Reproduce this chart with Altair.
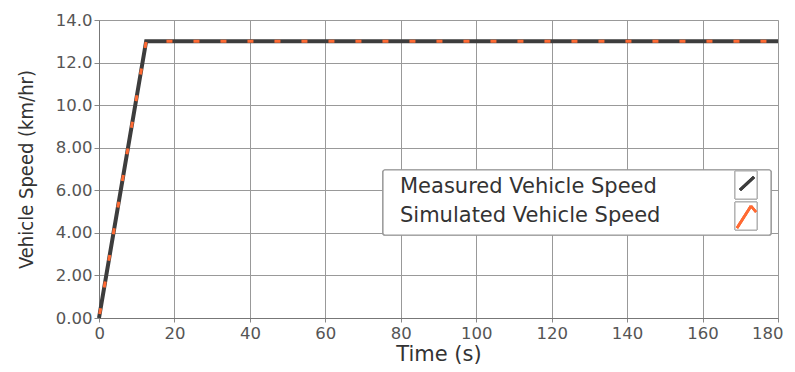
import altair as alt
import pandas as pd

time_s = [0, 12.5, 180]
measured = [0.0, 13.0, 13.0]
simulated = [0.0, 13.0, 13.0]
legend_labels = ["Measured Vehicle Speed", "Simulated Vehicle Speed"]
x_ticks = [0, 20, 40, 60, 80, 100, 120, 140, 160, 180]
y_ticks = [0, 2, 4, 6, 8, 10, 12, 14]

df = pd.DataFrame({"t": time_s, "measured": measured, "simulated": simulated})

FONT = "DejaVu Sans"
NARROW = "Liberation Sans Narrow, DejaVu Sans Condensed, sans-serif"

x = alt.X("t:Q", scale=alt.Scale(domain=[0, 180], nice=False),
          axis=alt.Axis(values=x_ticks, title="Time (s)", grid=True,
                        labelFontSize=16.5, labelColor="#555", labelFont=FONT,
                        labelFlush=True, labelFlushOffset=5,
                        titleFontSize=21, titleFont=FONT, titleFontWeight=500,
                        titleColor="#333", titlePadding=2,
                        tickSize=4, tickColor="#888", domainColor="#777",
                        gridColor="#999", labelPadding=3))

y_axis = alt.Axis(values=y_ticks, title="Vehicle Speed (km/hr)", grid=True,
                  labelExpr="datum.value >= 10 ? format(datum.value, '.1f') : format(datum.value, '.2f')",
                  labelFontSize=16.5, labelColor="#555", labelFont=FONT,
                  labelFlush=False,
                  titleFontSize=20, titleFont=NARROW, titleFontWeight="normal",
                  titleColor="#333", titlePadding=19,
                  tickSize=5, tickColor="#888", domainColor="#777",
                  gridColor="#999", labelPadding=2)

meas = alt.Chart(df).mark_line(color="#3d3d3d", strokeWidth=4).encode(
    x=x,
    y=alt.Y("measured:Q", scale=alt.Scale(domain=[0, 14], nice=False), axis=y_axis),
)
sim = alt.Chart(df).mark_line(color="#ff6a33", strokeWidth=3,
                              strokeDash=[6, 21], strokeDashOffset=-4).encode(
    x="t:Q", y="simulated:Q"
)

# Legend (drawn inside the plot)
box = alt.Chart(df).mark_rect(fill="white", stroke="#999", strokeWidth=1.2,
                              cornerRadius=2).encode(
    x=alt.value(284), x2=alt.value(672), y=alt.value(150), y2=alt.value(215))
leg_df = pd.DataFrame({"label": legend_labels})
txt1 = alt.Chart(leg_df.iloc[[0]]).mark_text(align="left", baseline="middle",
                                             fontSize=21, font=FONT, color="#333").encode(
    x=alt.value(301), y=alt.value(167), text="label:N")
txt2 = alt.Chart(leg_df.iloc[[1]]).mark_text(align="left", baseline="middle",
                                             fontSize=21, font=FONT, color="#333").encode(
    x=alt.value(301), y=alt.value(196), text="label:N")
sbox1 = alt.Chart(df).mark_rect(fill="white", stroke="#aaa", strokeWidth=1).encode(
    x=alt.value(636), x2=alt.value(658), y=alt.value(151), y2=alt.value(179))
sbox2 = alt.Chart(df).mark_rect(fill="white", stroke="#aaa", strokeWidth=1).encode(
    x=alt.value(636), x2=alt.value(658), y=alt.value(182), y2=alt.value(210))
g1 = alt.Chart(df).mark_rule(color="#3d3d3d", strokeWidth=3).encode(
    x=alt.value(641), x2=alt.value(655), y=alt.value(170), y2=alt.value(157))
g2a = alt.Chart(df).mark_rule(color="#ff6a33", strokeWidth=2.5).encode(
    x=alt.value(638), x2=alt.value(652), y=alt.value(208), y2=alt.value(186))
g2b = alt.Chart(df).mark_rule(color="#ff6a33", strokeWidth=2.5).encode(
    x=alt.value(652), x2=alt.value(657), y=alt.value(186), y2=alt.value(192))

chart = alt.layer(meas, sim, box, txt1, txt2, sbox1, sbox2, g1, g2a, g2b).properties(
    width=679, height=298,
    autosize=alt.AutoSizeParams(type="none"),
    padding={"left": 91, "top": 12, "right": 9, "bottom": 54},
).configure_view(stroke="#888", strokeWidth=1).configure(background="white")

chart.save("out.html", embed_options={"renderer": "svg", "actions": False})
